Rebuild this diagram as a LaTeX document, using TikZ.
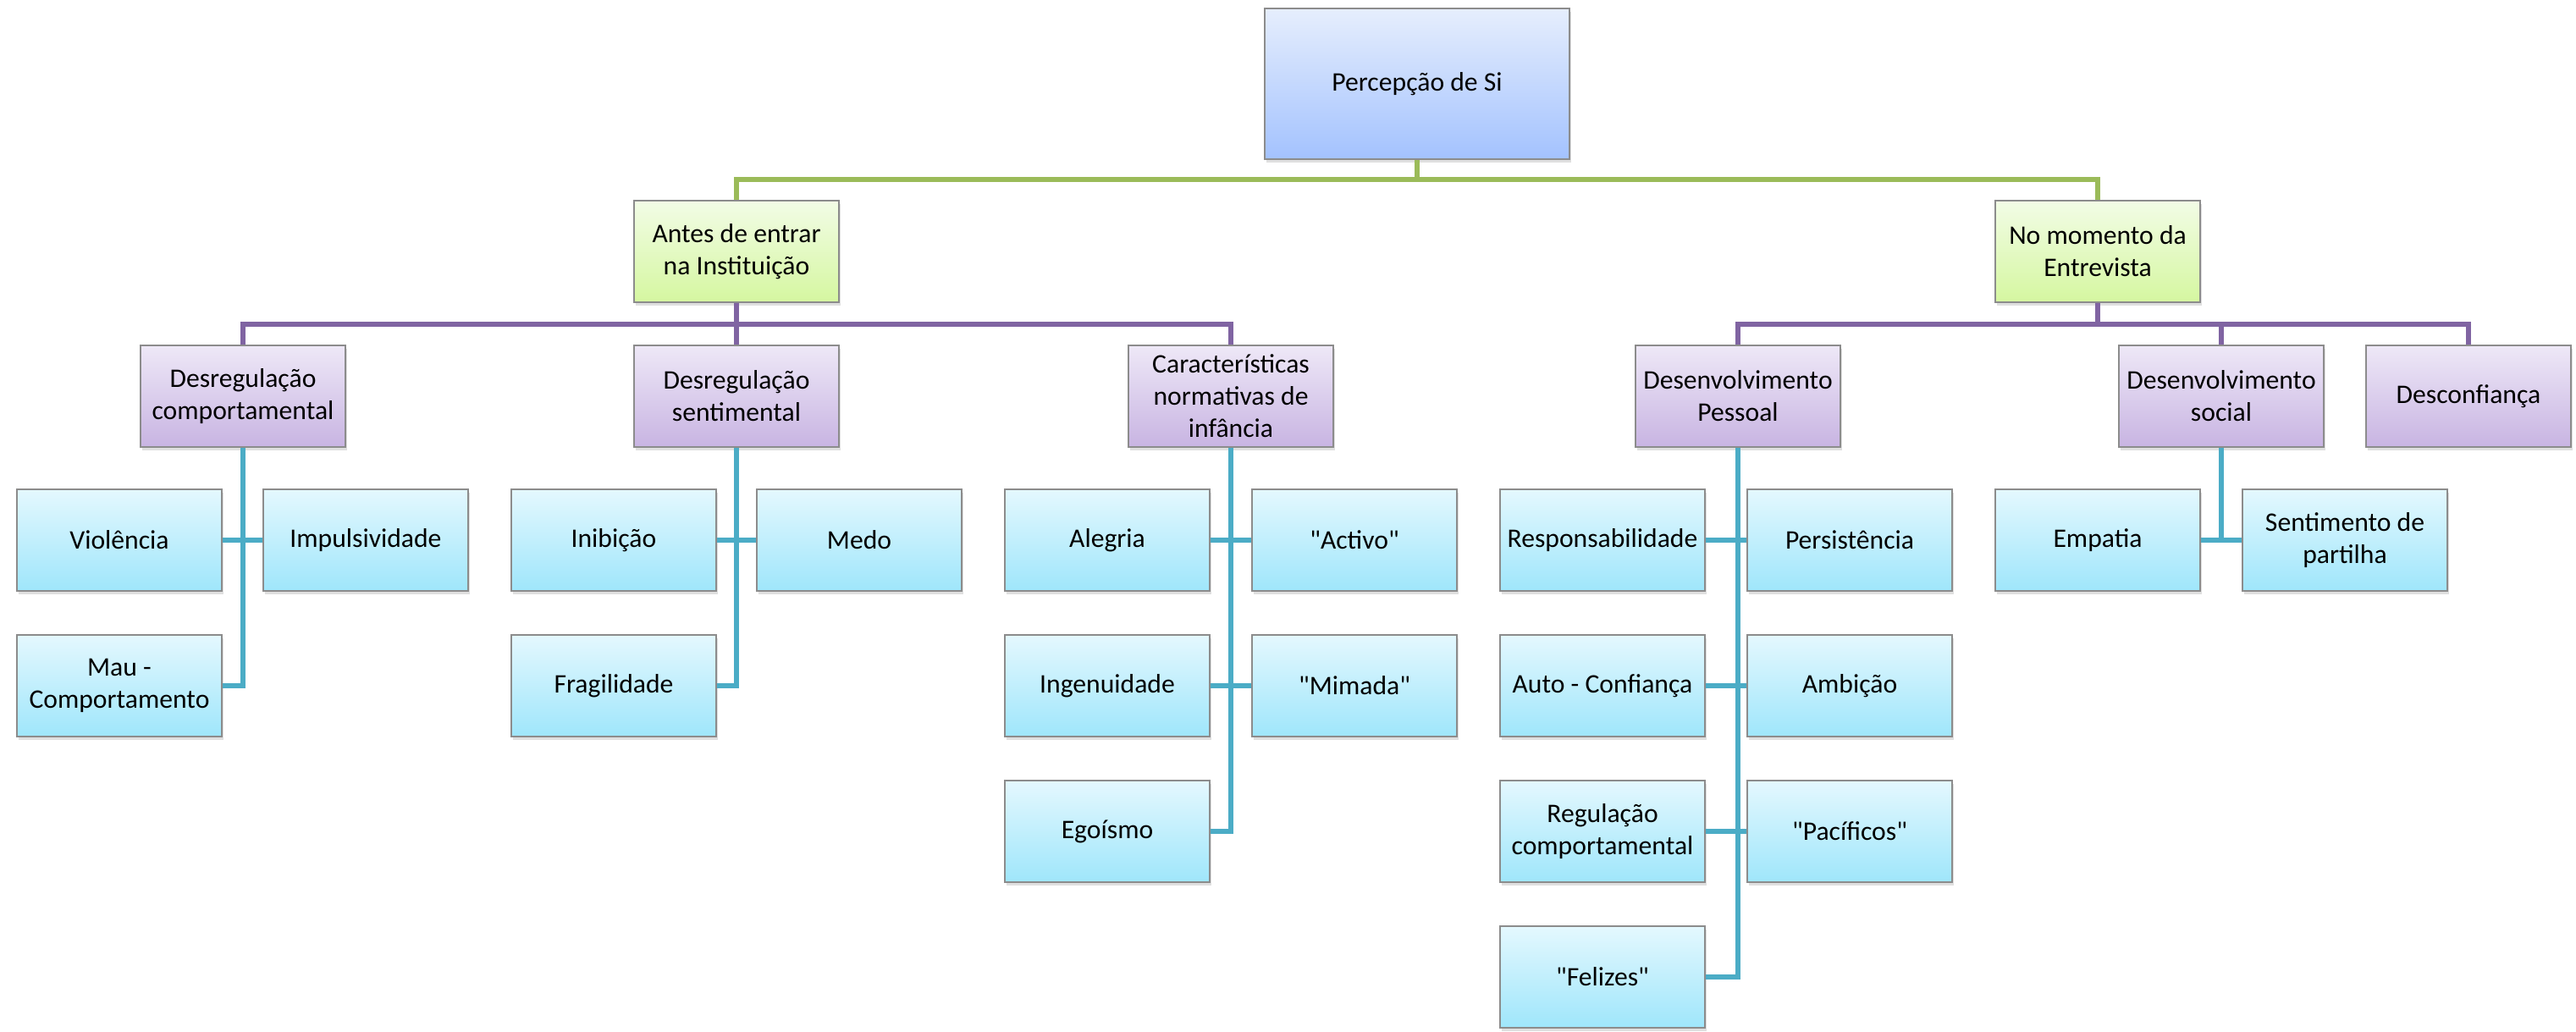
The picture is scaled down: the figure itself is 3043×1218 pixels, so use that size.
\documentclass[tikz,border=0pt]{standalone}
\usepackage{fontspec}
\setmainfont{Carlito}
\usepackage{tikz}
\usetikzlibrary{shadows}
\definecolor{rootTop}{HTML}{E6EEFD}
\definecolor{rootBottom}{HTML}{A3C2FE}
\definecolor{greenTop}{HTML}{F2FCE6}
\definecolor{greenBottom}{HTML}{D5F7A0}
\definecolor{purpleTop}{HTML}{EEE8F7}
\definecolor{purpleBottom}{HTML}{C8B4E2}
\definecolor{cyanTop}{HTML}{E4F8FE}
\definecolor{cyanBottom}{HTML}{9FE6FB}
\definecolor{lineGreen}{HTML}{9BBB59}
\definecolor{linePurple}{HTML}{8064A2}
\definecolor{lineCyan}{HTML}{4BACC6}
\newcommand{\quoted}[1]{\textquotedbl#1\textquotedbl}
\tikzset{
  box/.style={draw=black!45, line width=0.6pt, align=center, inner sep=1pt,
    font=\fontsize{9}{10.8}\selectfont,
    drop shadow={shadow xshift=0.6pt, shadow yshift=-1.2pt, opacity=0.25}},
  rootbox/.style={box, minimum width=3.6cm, minimum height=1.78cm, top color=rootTop, bottom color=rootBottom},
  greenbox/.style={box, minimum width=2.42cm, minimum height=1.2cm, top color=greenTop, bottom color=greenBottom},
  purplebox/.style={box, minimum width=2.42cm, minimum height=1.2cm, top color=purpleTop, bottom color=purpleBottom},
  cyanbox/.style={box, minimum width=2.42cm, minimum height=1.2cm, top color=cyanTop, bottom color=cyanBottom},
  greenline/.style={lineGreen, line width=1.7pt},
  purpleline/.style={linePurple, line width=1.7pt},
  cyanline/.style={lineCyan, line width=1.7pt}
}

\begin{document}
\begin{tikzpicture}[x=0.01cm, y=-0.01cm]
\useasboundingbox (0,0) rectangle (3043,1218);

\node[rootbox] (root) at (1674,99){Percepção de Si};

\node[greenbox] (antes) at (870,297){Antes de entrar\\na Instituição};
\node[greenbox] (momento) at (2478,297){No momento da\\Entrevista};

\node[purplebox] (descomp) at (287,468){Desregulação\\comportamental};
\node[purplebox] (dessent) at (870,468){Desregulação\\sentimental};
\node[purplebox] (caract) at (1454,468){Características\\normativas de\\infância};
\node[purplebox] (despes) at (2053,468){Desenvolvimento\\Pessoal};
\node[purplebox] (dessoc) at (2624,468){Desenvolvimento\\social};
\node[purplebox] (desconf) at (2916,468){Desconfiança};

% rows at 638, 810, 982, 1154
\node[cyanbox] (violencia) at (141,638){Violência};
\node[cyanbox] (impuls) at (432,638){Impulsividade};
\node[cyanbox] (mau) at (141,810){Mau -\\Comportamento};

\node[cyanbox] (inibicao) at (725,638){Inibição};
\node[cyanbox] (medo) at (1015,638){Medo};
\node[cyanbox] (fragil) at (725,810){Fragilidade};

\node[cyanbox] (alegria) at (1308,638){Alegria};
\node[cyanbox] (activo) at (1600,638){\quoted{Activo}};
\node[cyanbox] (ingenu) at (1308,810){Ingenuidade};
\node[cyanbox] (mimada) at (1600,810){\quoted{Mimada}};
\node[cyanbox] (egoismo) at (1308,982){Egoísmo};

\node[cyanbox] (respons) at (1893,638){Responsabilidade};
\node[cyanbox] (persist) at (2185,638){Persistência};
\node[cyanbox] (autoconf) at (1893,810){Auto - Confiança};
\node[cyanbox] (ambicao) at (2185,810){Ambição};
\node[cyanbox] (regcomp) at (1893,982){Regulação\\comportamental};
\node[cyanbox] (pacificos) at (2185,982){\quoted{Pacíficos}};
\node[cyanbox] (felizes) at (1893,1154){\quoted{Felizes}};

\node[cyanbox] (empatia) at (2478,638){Empatia};
\node[cyanbox] (partilha) at (2770,638){Sentimento de\\partilha};

\draw[greenline] (root.south) -- ++(0,23) -| (antes.north);
\draw[greenline] (root.south) -- ++(0,23) -| (momento.north);

\draw[purpleline] (antes.south) -- ++(0,25) -| (descomp.north);
\draw[purpleline] (antes.south) -- ++(0,25) -| (dessent.north);
\draw[purpleline] (antes.south) -- ++(0,25) -| (caract.north);
\draw[purpleline] (momento.south) -- ++(0,25) -| (despes.north);
\draw[purpleline] (momento.south) -- ++(0,25) -| (dessoc.north);
\draw[purpleline] (momento.south) -- ++(0,25) -| (desconf.north);

\draw[cyanline] (descomp.south) |- (mau.east);
\draw[cyanline] (violencia.east) -- (violencia.east -| descomp.south);
\draw[cyanline] (impuls.west) -- (impuls.west -| descomp.south);

\draw[cyanline] (dessent.south) |- (fragil.east);
\draw[cyanline] (inibicao.east) -- (inibicao.east -| dessent.south);
\draw[cyanline] (medo.west) -- (medo.west -| dessent.south);

\draw[cyanline] (caract.south) |- (egoismo.east);
\draw[cyanline] (alegria.east) -- (alegria.east -| caract.south);
\draw[cyanline] (activo.west) -- (activo.west -| caract.south);
\draw[cyanline] (ingenu.east) -- (ingenu.east -| caract.south);
\draw[cyanline] (mimada.west) -- (mimada.west -| caract.south);

\draw[cyanline] (despes.south) |- (felizes.east);
\draw[cyanline] (respons.east) -- (respons.east -| despes.south);
\draw[cyanline] (persist.west) -- (persist.west -| despes.south);
\draw[cyanline] (autoconf.east) -- (autoconf.east -| despes.south);
\draw[cyanline] (ambicao.west) -- (ambicao.west -| despes.south);
\draw[cyanline] (regcomp.east) -- (regcomp.east -| despes.south);
\draw[cyanline] (pacificos.west) -- (pacificos.west -| despes.south);

\draw[cyanline] (dessoc.south) |- (empatia.east);
\draw[cyanline] (partilha.west) -- (partilha.west -| dessoc.south);
\end{tikzpicture}
\end{document}
